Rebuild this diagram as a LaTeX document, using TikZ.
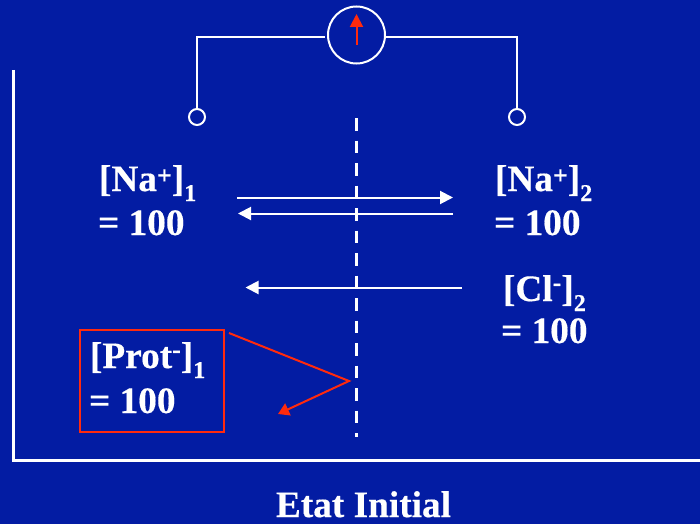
\documentclass[tikz,border=0pt]{standalone}
\usepackage{fontspec}
\setmainfont{Liberation Serif}[BoldFeatures={FakeBold=0.35}]
\usetikzlibrary{arrows.meta}
\definecolor{bgblue}{HTML}{031CA3}
\definecolor{redline}{HTML}{FF2A0D}
\newcommand{\conc}[4]{[#1\raisebox{#4}{\fontsize{26}{26}\selectfont #2}]\raisebox{-10pt}{\fontsize{24}{24}\selectfont #3}}
\tikzset{
  wire/.style={draw=white,line width=2pt},
  flow/.style={draw=white,line width=2pt,-{Triangle[length=13pt,width=13pt]}},
  redflow/.style={draw=redline,line width=2pt},
  lab/.style={text=white,font=\fontsize{37.3}{37.3}\selectfont\bfseries,anchor=base west,inner sep=0pt,outer sep=0pt},
  terminal/.style={circle,draw=white,line width=2pt,minimum size=16pt,inner sep=0pt},
  pt/.style={inner sep=0pt,outer sep=0pt}
}
\begin{document}
\begin{tikzpicture}[x=1pt,y=-1pt]
\useasboundingbox (0,0) rectangle (700,524);
\fill[bgblue] (0,0) rectangle (700,524);
% vessel
\coordinate (vt) at (13,70); \coordinate (vc) at (13,460.5); \coordinate (vr) at (700,460.5);
\draw[draw=white,line width=3pt,line join=miter] (vt) -- (vc) -- (vr);
% membrane
\coordinate (mt) at (356.5,118); \coordinate (mb) at (356.5,437);
\draw[draw=white,line width=3pt,dash pattern=on 12.5pt off 10pt] (mt) -- (mb);
% meter
\node[circle,draw=white,line width=2pt,minimum size=57pt,inner sep=0pt] (meter) at (356.5,35) {};
\node[terminal] (tl) at (197,117) {};
\node[terminal] (tr) at (517,117) {};
\draw[wire] (tl.north) |- ([xshift=-2pt,yshift=-2pt]meter.west);
\draw[wire] (tr.north) |- ([yshift=-2pt]meter.east);
\coordinate (ndl) at (356.5,45); \coordinate (ndt) at (356.5,14);
\draw[draw=redline,line width=2pt,-{Triangle[length=13pt,width=13pt]}] (ndl) -- (ndt);
% flows
\coordinate (a1) at (237,197.5); \coordinate (a2) at (453,197.5);
\coordinate (b1) at (453,213.5); \coordinate (b2) at (238,213.5);
\coordinate (c1) at (461.5,287.5); \coordinate (c2) at (245.5,287.5);
\draw[flow] (a1) -- (a2);
\draw[flow] (b1) -- (b2);
\draw[flow] (c1) -- (c2);
% labels
\node[lab] (na1) at (99,191) {\conc{Na}{+}{1}{7pt}};
\node[lab] (na1v) at (98,235) {= 100};
\node[lab] (na2) at (495,191) {\conc{Na}{+}{2}{7pt}};
\node[lab] (na2v) at (494,235) {= 100};
\node[lab] (cl2) at (503,301) {\conc{Cl}{-}{2}{10pt}};
\node[lab] (cl2v) at (501,343) {= 100};
\node[lab] (prot) at (90,368) {\conc{Prot}{-}{1}{10pt}};
\node[lab] (protv) at (89,413) {= 100};
\node[draw=redline,line width=2pt,pt,minimum width=144pt,minimum height=102pt] (box) at (152,381) {};
% red pointer
\coordinate (r1) at (229,333); \coordinate (r2) at (349,381); \coordinate (r3) at (278,414);
\draw[redflow,-{Triangle[length=11pt,width=13pt]}] (r1) -- (r2) -- (r3);
\node[text=white,font=\fontsize{37.3}{37.3}\selectfont\bfseries,anchor=base,pt] (title) at (363.5,517) {Etat Initial};
\end{tikzpicture}
\end{document}
